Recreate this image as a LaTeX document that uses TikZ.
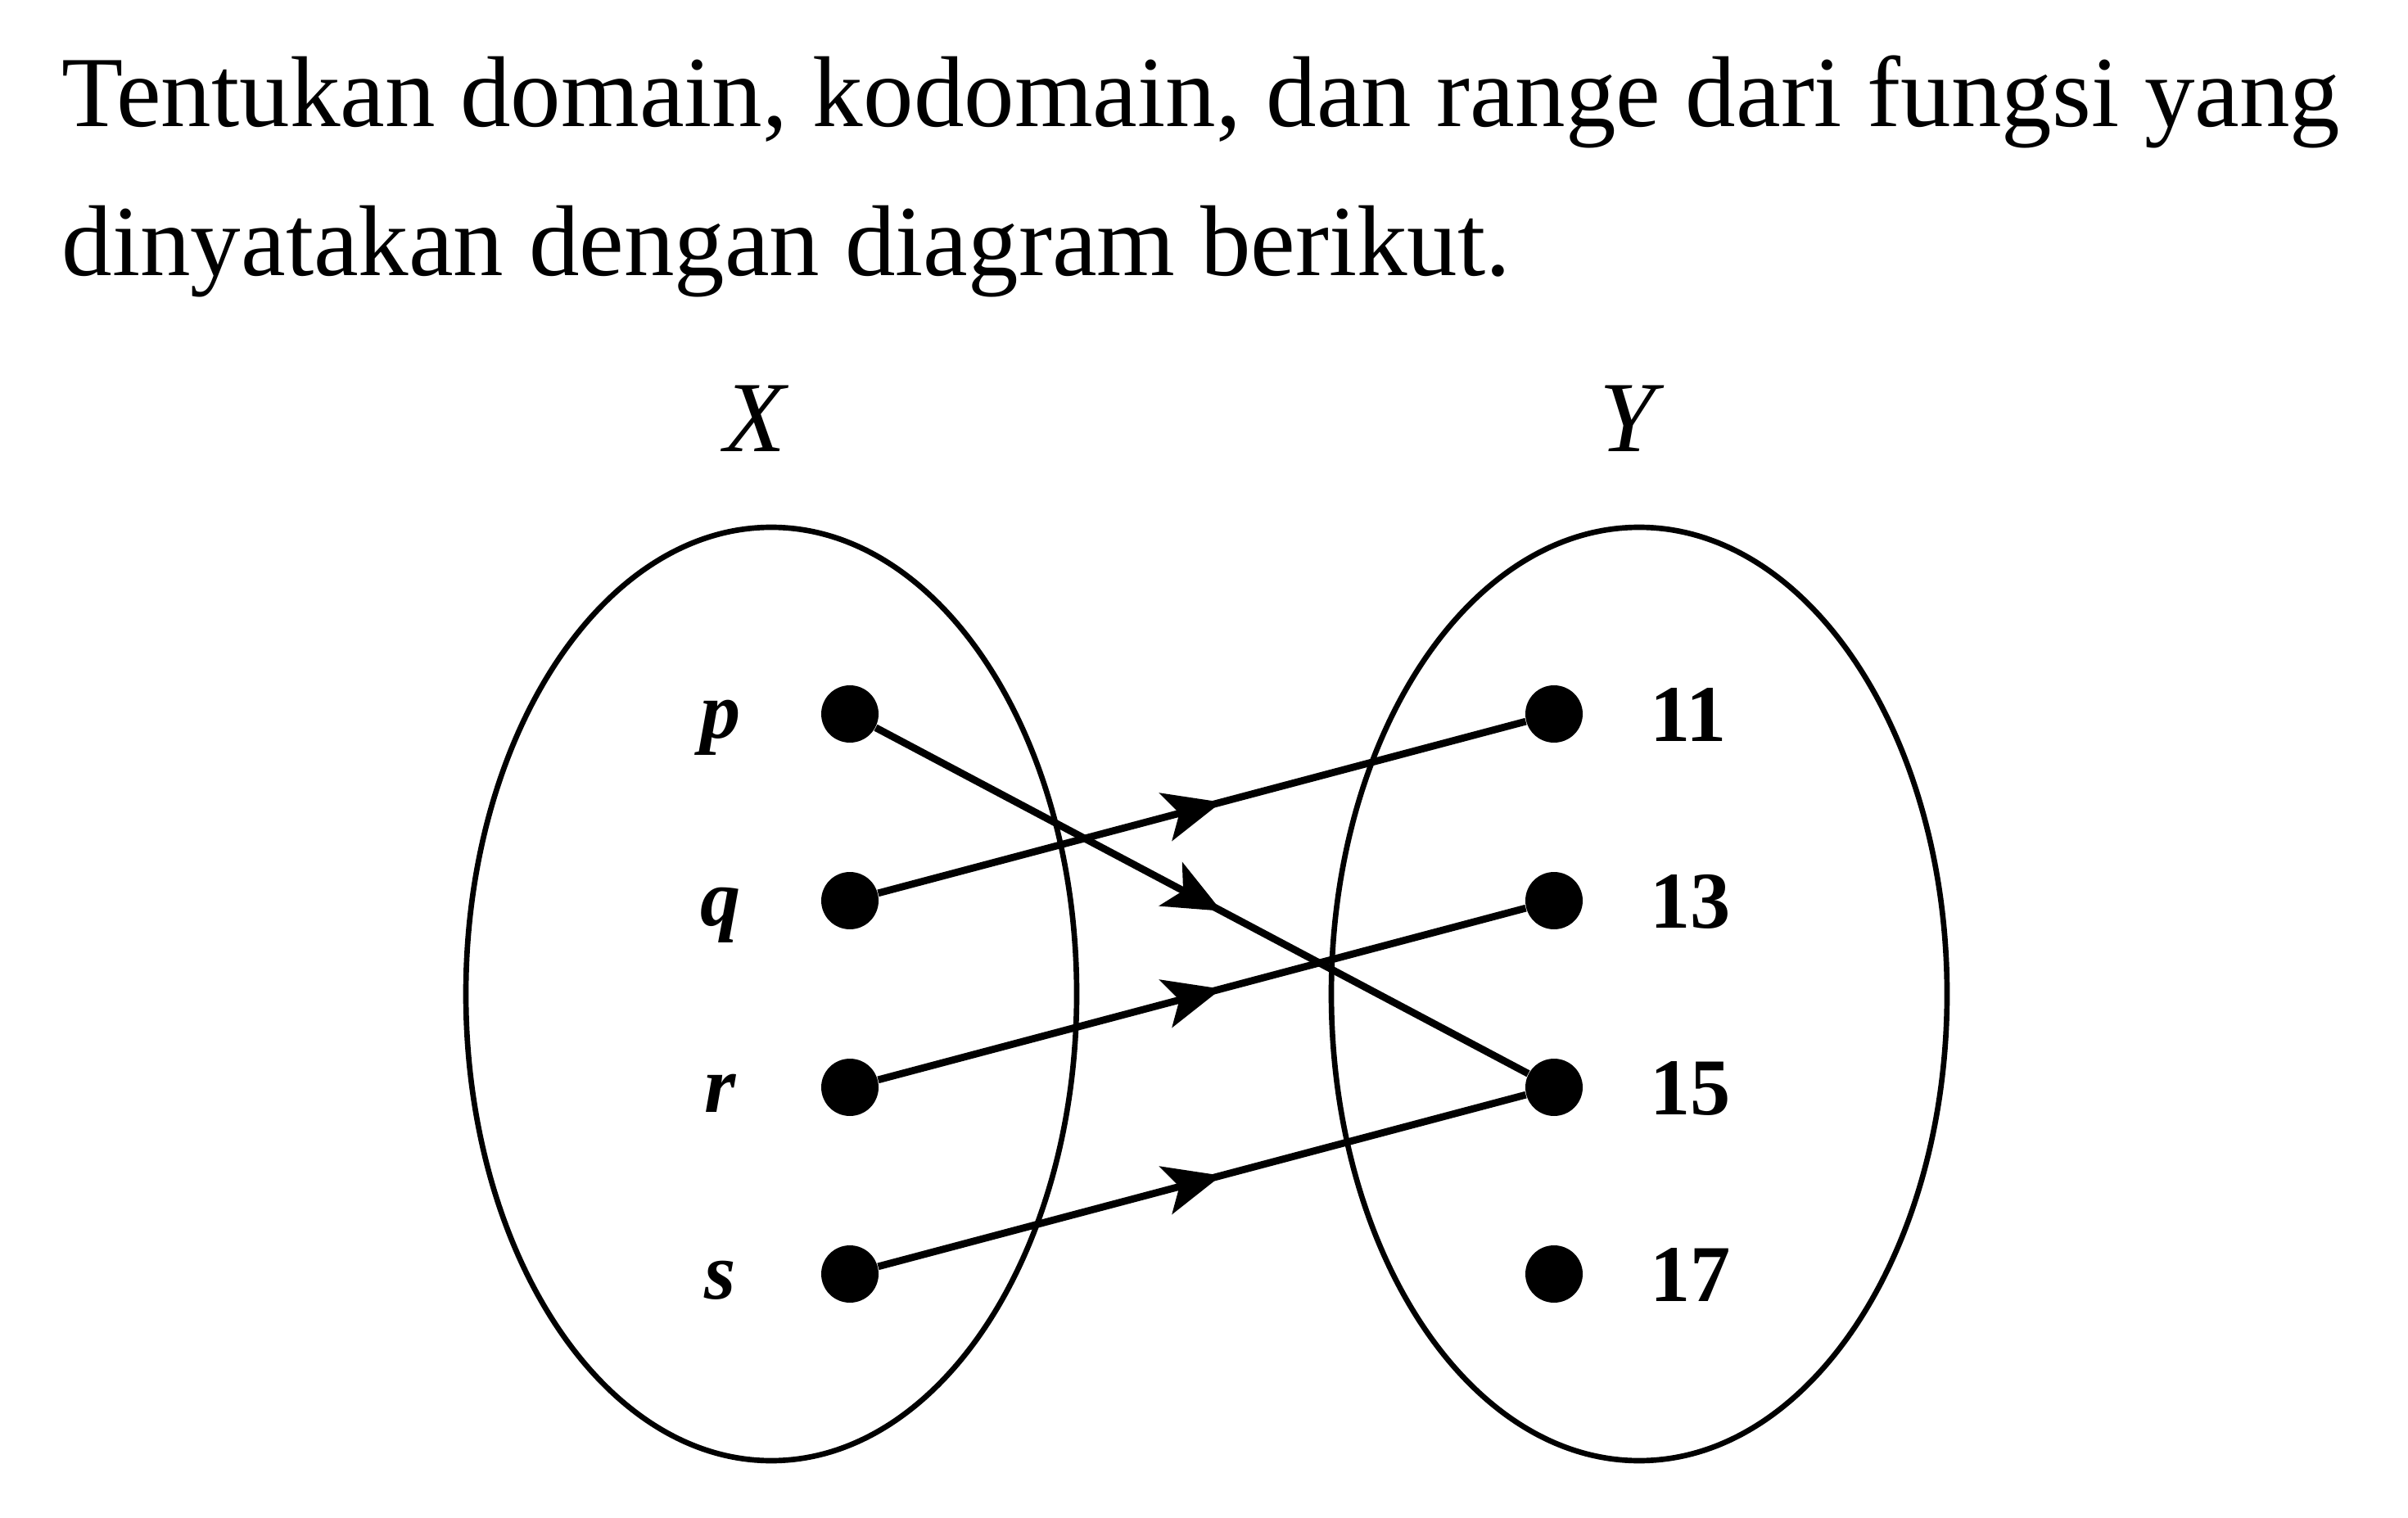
\documentclass[tikz,border=0pt]{standalone}
\usepackage{fontspec}
\setmainfont{Liberation Serif}
\usetikzlibrary{arrows.meta,decorations.markings}

\begin{document}
\begin{tikzpicture}[
	dot/.style={circle, fill=black, inner sep=0pt, minimum size=0.70cm},
	setline/.style={line width=1.9pt},
	maparrow/.style={line width=2.5pt, postaction={decorate},
		decoration={markings, mark=at position 0.53 with
			{\arrow{Stealth[length=0.7cm, width=0.6cm, inset=0.17cm]}}}},
	bigtext/.style={inner sep=0pt, font=\fontsize{35}{42}\selectfont},
	elemtext/.style={inner sep=0pt, font=\fontsize{28}{34}\selectfont\bfseries}
]
	\useasboundingbox (0,0) rectangle (29.41,-18.54);

	% question
	\node[bigtext, anchor=base west] (line1) at (0.75,-1.55)
		{Tentukan domain, kodomain, dan range dari fungsi yang};
	\node[bigtext, anchor=base west] (line2) at (0.75,-3.37)
		{dinyatakan dengan diagram berikut.};

	% set names
	\node[bigtext, anchor=base] (X) at (9.24,-5.52) {\textit{X}};
	\node[bigtext, anchor=base] (Y) at (19.93,-5.52) {\textit{Y}};

	% the two sets
	\draw[setline] (9.42,-12.14) ellipse (3.73 and 5.70);
	\draw[setline] (20.02,-12.14) ellipse (3.76 and 5.70);

	% elements of X
	\foreach \n [count=\i from 0] in {p,q,r,s} {
		\node[dot] (\n) at (10.38,{-8.72-2.28*\i}) {};
		\node[elemtext, anchor=base] (l\n) at (8.80,{-9.02-2.28*\i}) {\textit{\n}};
	}

	% elements of Y
	\foreach \n [count=\i from 0] in {11,13,15,17} {
		\node[dot] (y\n) at (18.98,{-8.72-2.28*\i}) {};
		\node[elemtext, anchor=base west] (l\n) at (20.15,{-9.05-2.28*\i}) {\n};
	}

	% mapping
	\draw[maparrow] (p) -- (y15);
	\draw[maparrow] (q) -- (y11);
	\draw[maparrow] (r) -- (y13);
	\draw[maparrow] (s) -- (y15);

\end{tikzpicture}
\end{document}
